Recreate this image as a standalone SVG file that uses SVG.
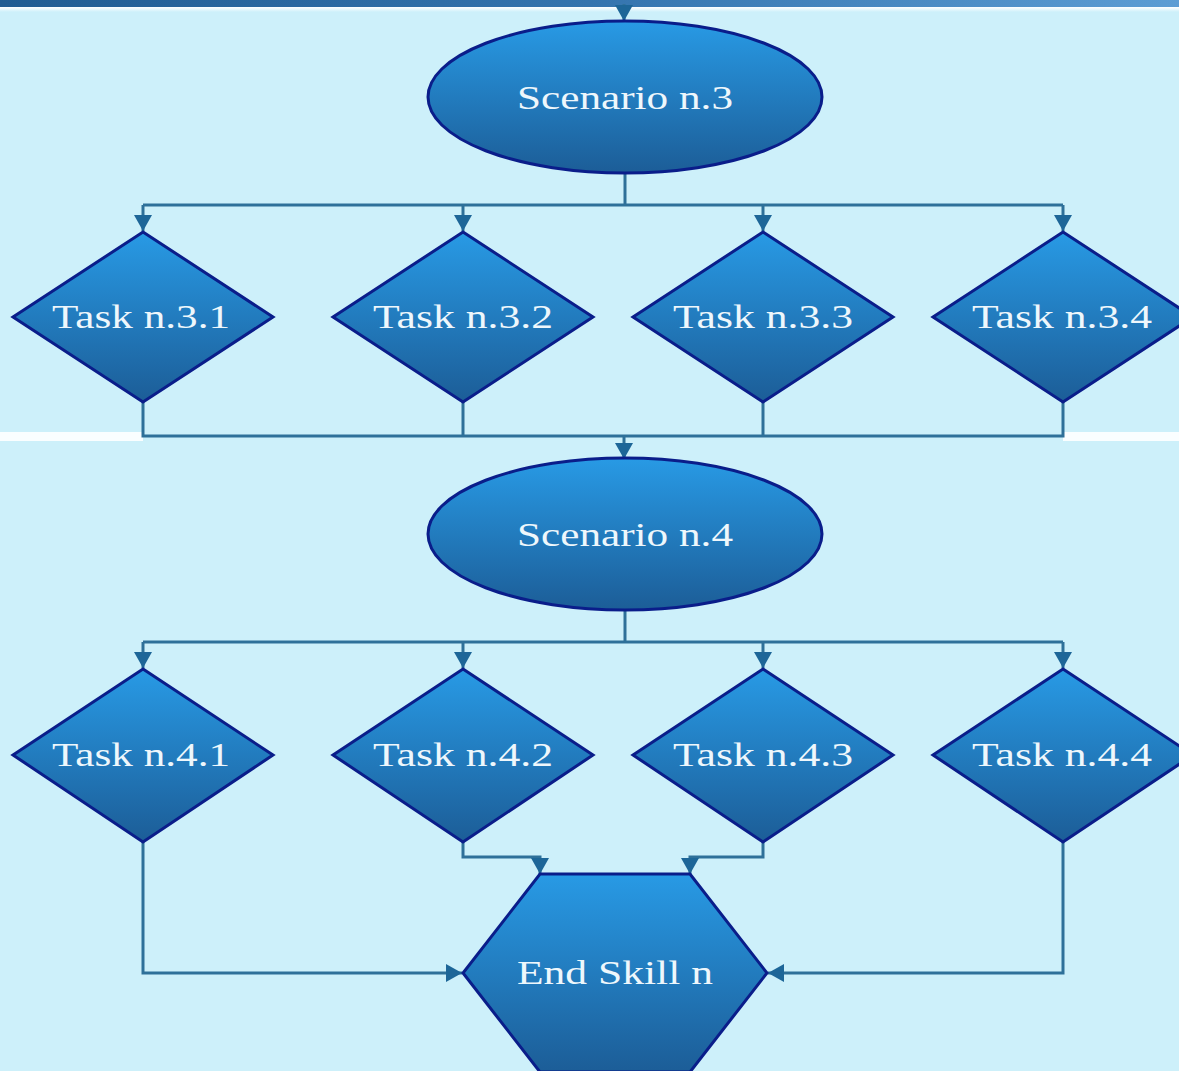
<svg xmlns="http://www.w3.org/2000/svg" width="1179" height="1071" viewBox="0 0 1179 1071">
  <defs>
    <linearGradient id="bar" x1="0" y1="0" x2="1" y2="0">
      <stop offset="0" stop-color="#205C92"/>
      <stop offset="0.5" stop-color="#3474AE"/>
      <stop offset="1" stop-color="#5C9DD4"/>
    </linearGradient>
    <linearGradient id="glow" x1="0" y1="0" x2="0" y2="1">
      <stop offset="0" stop-color="#FFFFFF"/>
      <stop offset="1" stop-color="#CDF0FA"/>
    </linearGradient>
    <linearGradient id="fill" x1="0" y1="0" x2="0" y2="1">
      <stop offset="0" stop-color="#289AE5"/>
      <stop offset="1" stop-color="#1C5D97"/>
    </linearGradient>
    <marker id="arrow" viewBox="0 0 16 18" refX="16" refY="9" markerWidth="16" markerHeight="18" markerUnits="userSpaceOnUse" orient="auto">
      <path d="M0,0 L16,9 L0,18 z" fill="#1D6698"/>
    </marker>
    <style>
      .shape { fill: url(#fill); stroke: #0A1D8A; stroke-width: 3; }
      .label { font-family: "Liberation Serif", "Times New Roman", serif; font-size: 33px; fill: #EEF7FC; text-anchor: middle; }
      .conn { fill: none; stroke: #2E7099; stroke-width: 3; }
    </style>
  </defs>

  <rect x="0" y="0" width="1179" height="1071" fill="#CDF0FA"/>
  <rect x="0" y="0" width="1179" height="7" fill="url(#bar)"/>
  <rect x="0" y="7" width="1179" height="5" fill="url(#glow)"/>
  <rect x="0" y="432" width="143" height="9" fill="#FFFFFF" opacity="0.9"/>
  <rect x="1063" y="432" width="116" height="9" fill="#FFFFFF" opacity="0.9"/>

  <g id="connectors">
    <path class="conn" d="M624,4 V21" marker-end="url(#arrow)"/>
    <path class="conn" d="M625,173 V205"/>
    <path class="conn" d="M143,205 H1063"/>
    <path class="conn" d="M143,205 V231" marker-end="url(#arrow)"/>
    <path class="conn" d="M463,205 V231" marker-end="url(#arrow)"/>
    <path class="conn" d="M763,205 V231" marker-end="url(#arrow)"/>
    <path class="conn" d="M1063,205 V231" marker-end="url(#arrow)"/>
    <path class="conn" d="M143,402 V436 H1063 V402"/>
    <path class="conn" d="M463,402 V436"/>
    <path class="conn" d="M763,402 V436"/>
    <path class="conn" d="M624,436 V459" marker-end="url(#arrow)"/>
    <path class="conn" d="M625,610 V642"/>
    <path class="conn" d="M143,642 H1063"/>
    <path class="conn" d="M143,642 V668" marker-end="url(#arrow)"/>
    <path class="conn" d="M463,642 V668" marker-end="url(#arrow)"/>
    <path class="conn" d="M763,642 V668" marker-end="url(#arrow)"/>
    <path class="conn" d="M1063,642 V668" marker-end="url(#arrow)"/>
    <path class="conn" d="M143,842 V973 H462" marker-end="url(#arrow)"/>
    <path class="conn" d="M1063,842 V973 H768" marker-end="url(#arrow)"/>
    <path class="conn" d="M463,842 V857 H540 V874" marker-end="url(#arrow)"/>
    <path class="conn" d="M763,842 V857 H690 V874" marker-end="url(#arrow)"/>
  </g>

  <g id="scenario3">
    <ellipse class="shape" cx="625" cy="97" rx="197" ry="76"/>
    <text class="label" x="625" y="109" textLength="216" lengthAdjust="spacingAndGlyphs">Scenario n.3</text>
  </g>
  <g id="task31">
    <polygon class="shape" points="143,232 273,317 143,402 13,317"/>
    <text class="label" x="141" y="328" textLength="178" lengthAdjust="spacingAndGlyphs">Task n.3.1</text>
  </g>
  <g id="task32">
    <polygon class="shape" points="463,232 593,317 463,402 333,317"/>
    <text class="label" x="463" y="328" textLength="180" lengthAdjust="spacingAndGlyphs">Task n.3.2</text>
  </g>
  <g id="task33">
    <polygon class="shape" points="763,232 893,317 763,402 633,317"/>
    <text class="label" x="763" y="328" textLength="180" lengthAdjust="spacingAndGlyphs">Task n.3.3</text>
  </g>
  <g id="task34">
    <polygon class="shape" points="1063,232 1193,317 1063,402 933,317"/>
    <text class="label" x="1062" y="328" textLength="180" lengthAdjust="spacingAndGlyphs">Task n.3.4</text>
  </g>

  <g id="scenario4">
    <ellipse class="shape" cx="625" cy="534" rx="197" ry="76"/>
    <text class="label" x="625" y="546" textLength="216" lengthAdjust="spacingAndGlyphs">Scenario n.4</text>
  </g>
  <g id="task41">
    <polygon class="shape" points="143,669 273,755 143,842 13,755"/>
    <text class="label" x="141" y="766" textLength="178" lengthAdjust="spacingAndGlyphs">Task n.4.1</text>
  </g>
  <g id="task42">
    <polygon class="shape" points="463,669 593,755 463,842 333,755"/>
    <text class="label" x="463" y="766" textLength="180" lengthAdjust="spacingAndGlyphs">Task n.4.2</text>
  </g>
  <g id="task43">
    <polygon class="shape" points="763,669 893,755 763,842 633,755"/>
    <text class="label" x="763" y="766" textLength="180" lengthAdjust="spacingAndGlyphs">Task n.4.3</text>
  </g>
  <g id="task44">
    <polygon class="shape" points="1063,669 1193,755 1063,842 933,755"/>
    <text class="label" x="1062" y="766" textLength="180" lengthAdjust="spacingAndGlyphs">Task n.4.4</text>
  </g>

  <g id="endskill">
    <polygon class="shape" points="540,874 690,874 767,973 690,1072 540,1072 463,973"/>
    <text class="label" x="615" y="984" textLength="196" lengthAdjust="spacingAndGlyphs">End Skill n</text>
  </g>
</svg>
